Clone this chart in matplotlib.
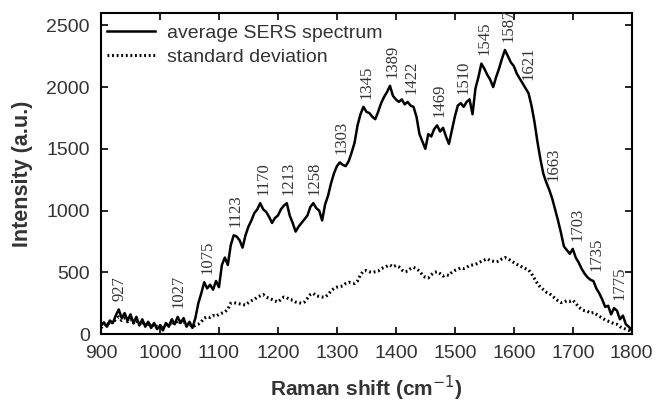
import numpy as np
import matplotlib.pyplot as plt

# Raman shift grid (cm^-1), one reading every 5 cm^-1
shift = np.arange(900, 1801, 5)

# average SERS spectrum
mean_spectrum = [
    70, 95, 60, 110, 90, 150, 200, 130, 170, 110,
    160, 90, 140, 70, 120, 60, 100, 50, 90, 40,
    70, 30, 90, 60, 120, 80, 140, 90, 130, 60,
    100, 50, 130, 250, 330, 420, 370, 400, 360, 430,
    380, 560, 620, 560, 720, 800, 790, 760, 700, 800,
    870, 920, 980, 1010, 1060, 1010, 990, 950, 900, 940,
    960, 1010, 1040, 1060, 960, 900, 830, 870, 900, 930,
    960, 1030, 1060, 1020, 1000, 920, 1050, 1120, 1220, 1300,
    1360, 1390, 1370, 1360, 1400, 1470, 1550, 1690, 1780, 1840,
    1800, 1790, 1760, 1740, 1800, 1870, 1920, 1960, 2010, 1930,
    1900, 1880, 1900, 1860, 1880, 1850, 1840, 1760, 1620, 1560,
    1500, 1620, 1600, 1660, 1690, 1640, 1670, 1600, 1540, 1650,
    1760, 1850, 1870, 1840, 1880, 1900, 1780, 1990, 2080, 2190,
    2150, 2100, 2060, 2000, 2080, 2150, 2230, 2300, 2250, 2200,
    2170, 2110, 2070, 2030, 1990, 1950, 1850, 1720, 1560, 1420,
    1300, 1230, 1170, 1100, 1010, 920, 820, 710, 680, 650,
    690, 620, 580, 530, 490, 460, 440, 430, 370, 330,
    280, 220, 230, 160, 210, 190, 120, 150, 80, 60,
    30,
]

# standard deviation
std_spectrum = [
    50, 80, 70, 100, 90, 120, 140, 110, 130, 100,
    120, 90, 110, 80, 100, 70, 90, 60, 80, 60,
    70, 50, 80, 70, 100, 80, 110, 90, 100, 70,
    80, 60, 70, 80, 100, 130, 140, 135, 150, 145,
    160, 170, 180, 200, 250, 255, 250, 245, 240, 235,
    255, 270, 280, 300, 310, 320, 300, 290, 280, 270,
    260, 280, 300, 295, 280, 275, 260, 255, 250, 260,
    290, 320, 330, 310, 305, 300, 300, 320, 350, 370,
    380, 385, 390, 410, 420, 415, 410, 430, 480, 510,
    515, 505, 500, 505, 510, 530, 540, 550, 560, 545,
    555, 545, 520, 505, 510, 530, 540, 530, 510, 480,
    460, 455, 480, 500, 505, 490, 470, 480, 475, 500,
    515, 525, 535, 530, 540, 555, 560, 565, 575, 590,
    600, 610, 595, 590, 585, 590, 610, 620, 610, 595,
    580, 565, 555, 540, 530, 520, 490, 450, 410, 380,
    360, 340, 330, 310, 290, 270, 255, 260, 270, 265,
    275, 250, 220, 200, 190, 185, 170, 175, 160, 145,
    130, 115, 105, 95, 85, 80, 60, 50, 40, 30,
    20,
]

# assigned band positions written above the spectrum
peaks = [927, 1027, 1075, 1123, 1170, 1213, 1258, 1303, 1345, 1389,
         1422, 1469, 1510, 1545, 1587, 1621, 1663, 1703, 1735, 1775]

text_color = "#333333"
plt.rcParams["font.family"] = ["Liberation Sans", "DejaVu Sans"]

fig = plt.figure(figsize=(6.56, 4.05), dpi=100)
ax = fig.add_axes([0.154, 0.175, 0.809, 0.793])

mean_arr = np.array(mean_spectrum)
ax.plot(shift, mean_arr, color="black", lw=1.8, label="average SERS spectrum")
ax.plot(shift, std_spectrum, color="black", lw=2.2, ls=(0, (0.6, 0.9)),
        label="standard deviation")

for p in peaks:
    window = (shift >= p - 5) & (shift <= p + 10)
    top = mean_arr[window].max()
    txt = ax.annotate(str(p), xy=(p, top), xytext=(2, 6), textcoords="offset points",
                      rotation=90, ha="center", va="bottom", fontsize=12,
                      family=["Liberation Serif", "DejaVu Serif"], color=text_color)
    txt.set_clip_on(True)

ax.set_xlim(900, 1800)
ax.set_ylim(0, 2600)
ax.set_xticks(range(900, 1801, 100))
ax.set_yticks(range(0, 2501, 500))
ax.tick_params(direction="in", top=True, right=True, length=5, width=1.2,
               labelsize=14, labelcolor=text_color, pad=8)
for s in ax.spines.values():
    s.set_linewidth(1.5)

ax.set_xlabel("Raman shift (cm$^{-1}$)", fontsize=15, fontweight="bold",
              color=text_color, labelpad=8)
ax.set_ylabel("Intensity (a.u.)", fontsize=15.5, fontweight="bold",
              color=text_color, labelpad=10)

ax.legend(loc="upper left", bbox_to_anchor=(0.0, 0.984), frameon=False,
          fontsize=14, handlelength=2.5, handletextpad=0.6, labelspacing=0.35,
          borderaxespad=0.2, borderpad=0.1, labelcolor=text_color)

fig.savefig("out.png", dpi=100)
